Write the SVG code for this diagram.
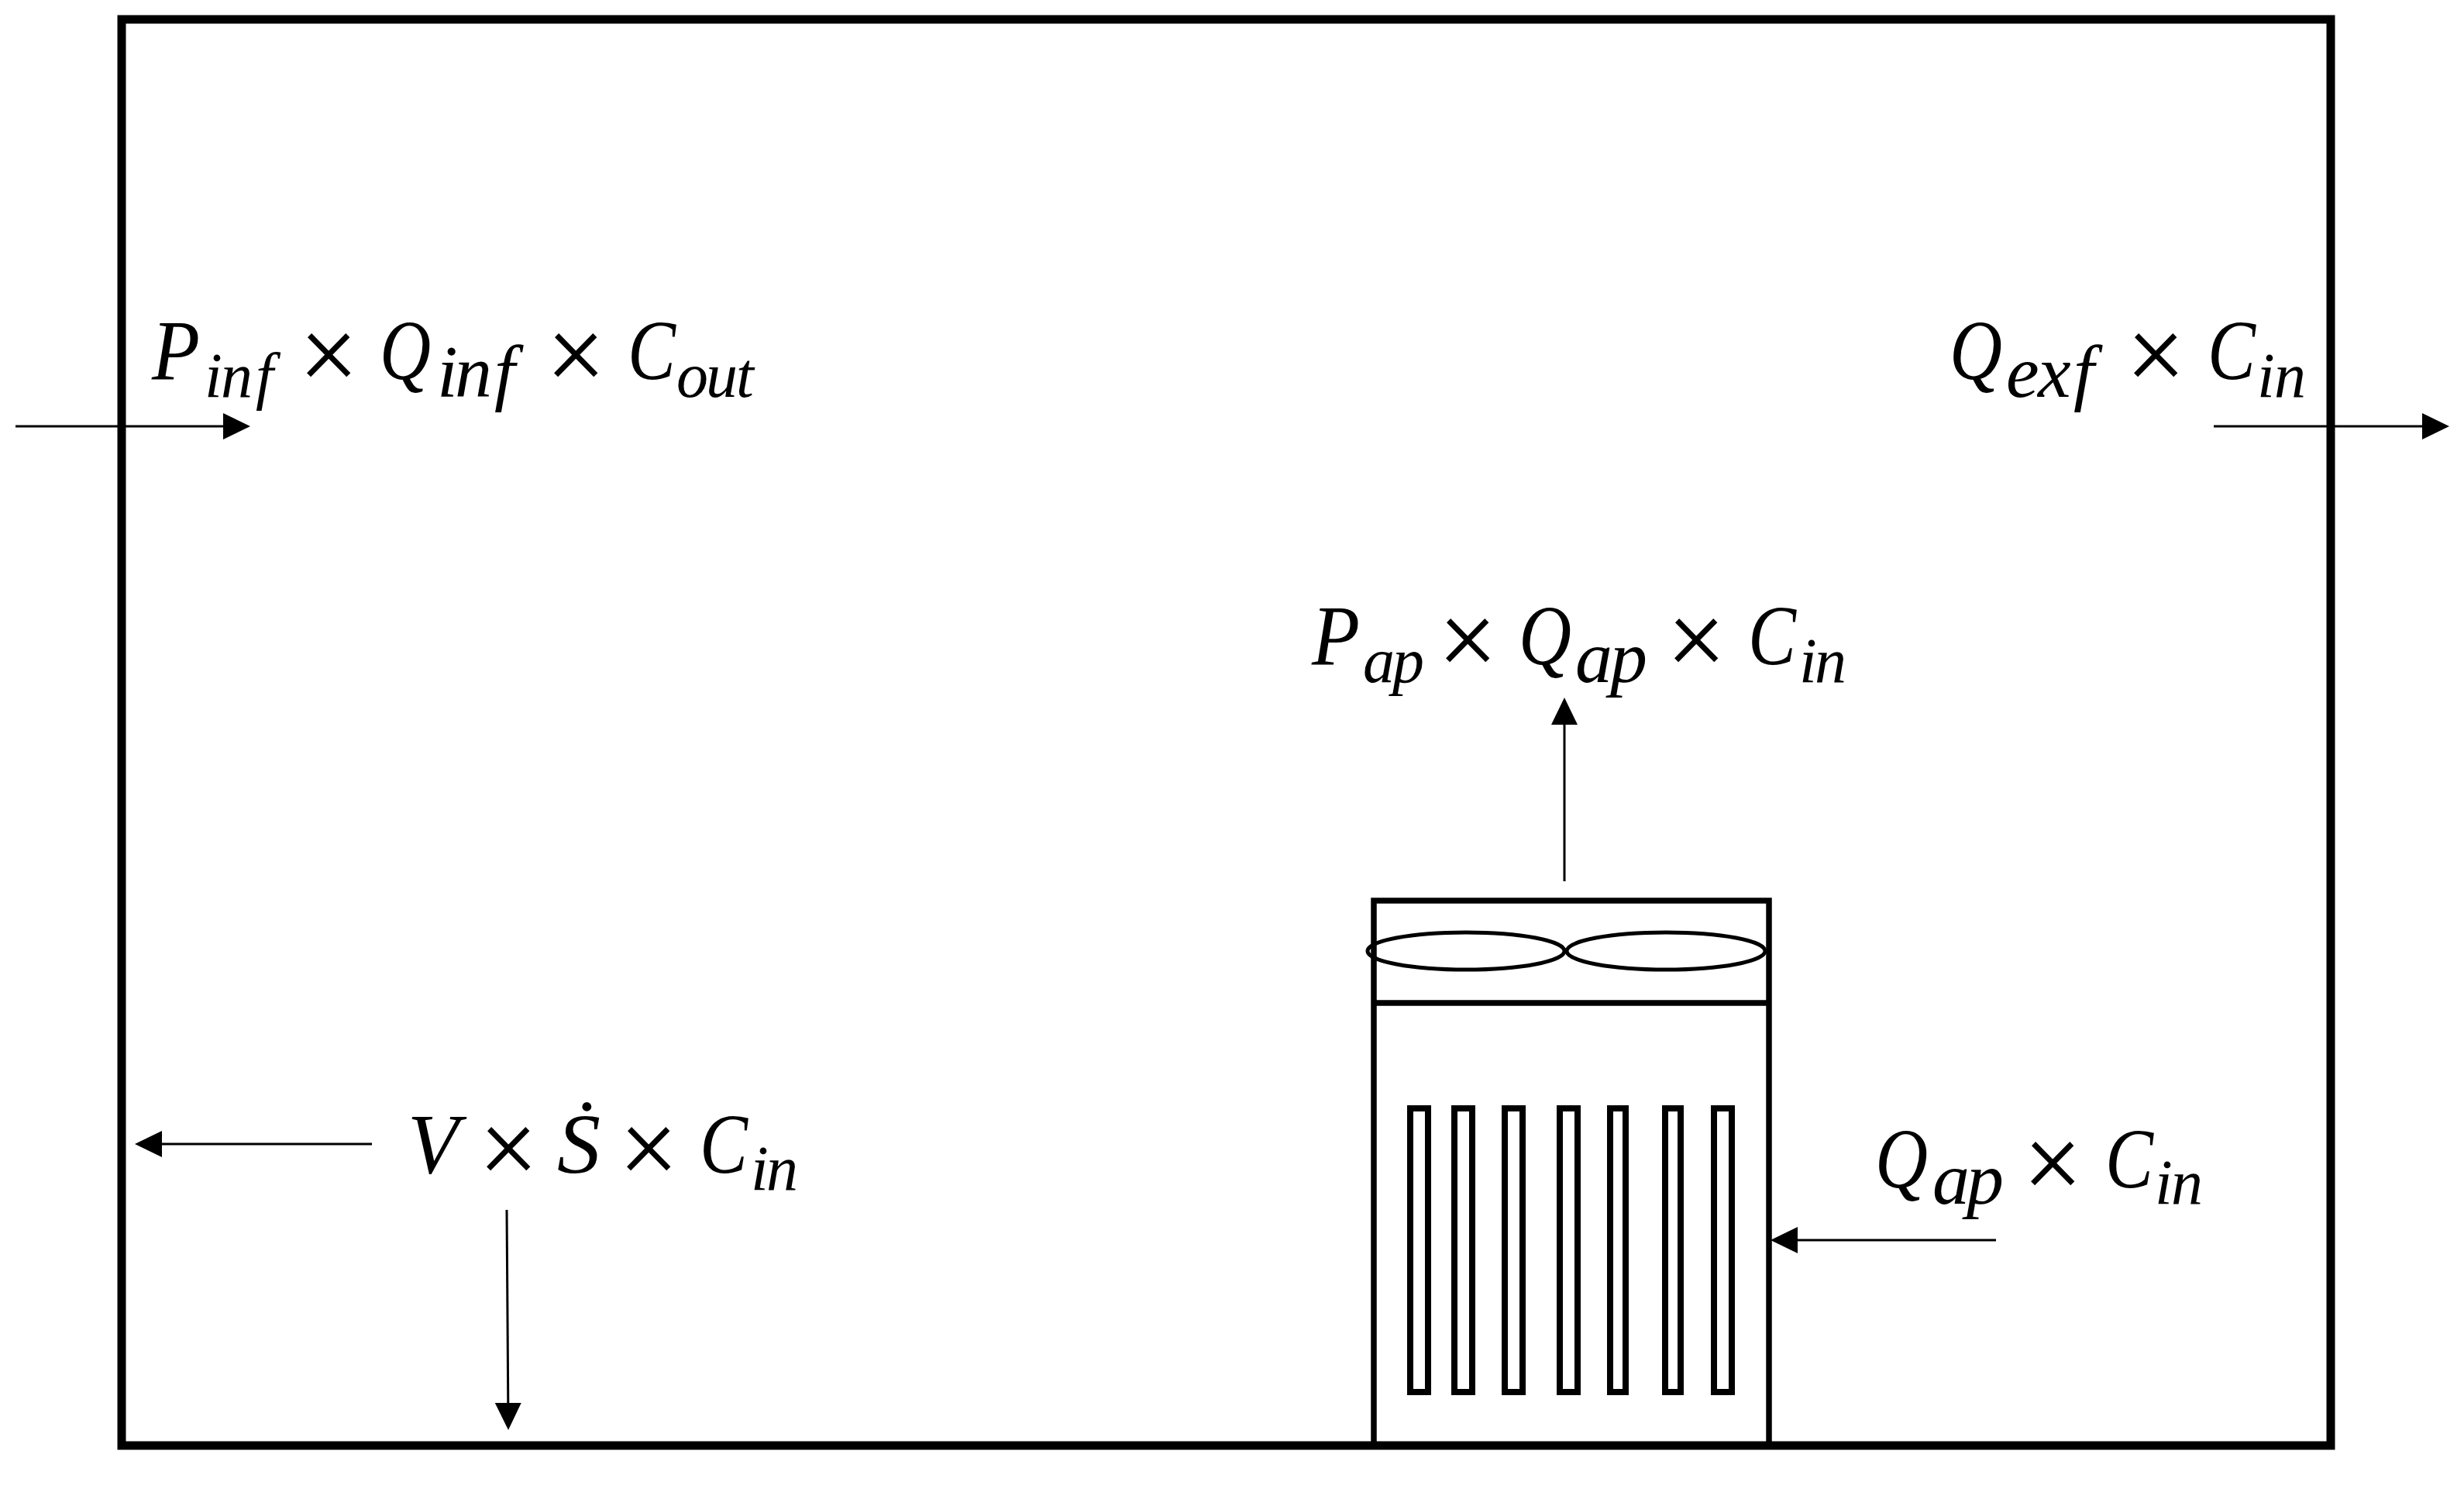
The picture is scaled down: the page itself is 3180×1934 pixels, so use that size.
<svg xmlns="http://www.w3.org/2000/svg" width="3180" height="1934" viewBox="0 0 3180 1934">
<style>
.bg{fill:#fff}
.frame{fill:none;stroke:#000;stroke-width:11}
.unit{fill:none;stroke:#000;stroke-width:7.5}
.vent{fill:none;stroke:#000;stroke-width:8}
.fan{fill:none;stroke:#000;stroke-width:5}
.arrow{fill:none;stroke:#000;stroke-width:3;marker-end:url(#head)}
text{font-family:"Liberation Serif","Times New Roman",serif;fill:#000}
.m{font-size:110px;font-style:italic}
.s{font-size:82px;font-style:italic}
.l{font-size:96px;font-style:italic}
.x{font-size:132px;font-family:Roboto,"Liberation Sans",sans-serif;font-weight:300}
</style>
<defs>
<marker id="head" markerUnits="userSpaceOnUse" markerWidth="36" markerHeight="36" refX="31" refY="17" orient="auto">
<path d="M0 0L35 17L0 34Z" fill="#000"/>
</marker>
</defs>
<rect class="bg" width="3180" height="1934"/>
<g id="room"><rect class="frame" x="157" y="25" width="2851" height="1840"/></g>
<g id="air-purifier">
<rect class="unit" x="1773" y="1162" width="510" height="703"/>
<line class="unit" x1="1773" y1="1294" x2="2283" y2="1294"/>
<ellipse class="fan" cx="1892" cy="1227" rx="127" ry="24"/>
<ellipse class="fan" cx="2150" cy="1227" rx="128" ry="24"/>
<rect class="vent" x="1820" y="1430" width="23" height="366"/>
<rect class="vent" x="1877" y="1430" width="23" height="366"/>
<rect class="vent" x="1942" y="1430" width="23" height="366"/>
<rect class="vent" x="2013" y="1430" width="23" height="366"/>
<rect class="vent" x="2078" y="1430" width="20" height="366"/>
<rect class="vent" x="2149" y="1430" width="20" height="366"/>
<rect class="vent" x="2212" y="1430" width="23" height="366"/>
</g>
<g id="connectors">
<line class="arrow" x1="20" y1="550" x2="319" y2="550"/>
<line class="arrow" x1="2857" y1="550" x2="3157" y2="550"/>
<line class="arrow" x1="2019" y1="1137" x2="2019" y2="904"/>
<line class="arrow" x1="480" y1="1476" x2="178" y2="1476"/>
<line class="arrow" x1="654" y1="1561" x2="656" y2="1841"/>
<line class="arrow" x1="2576" y1="1600" x2="2289" y2="1600"/>
</g>
<g id="label-infiltration"><text><tspan class="m" x="196" y="489" textLength="62" lengthAdjust="spacingAndGlyphs">P</tspan><tspan class="s" x="264 285 330" y="512">inf</tspan><tspan class="x" x="390" y="493">×</tspan><tspan class="m" x="490" y="489" textLength="66" lengthAdjust="spacingAndGlyphs">Q</tspan><tspan class="l" x="564 587 638" y="512">inf</tspan><tspan class="x" x="709" y="493">×</tspan><tspan class="m" x="810" y="489" textLength="62" lengthAdjust="spacingAndGlyphs">C</tspan><tspan class="s" x="873 911 950" y="512">out</tspan></text></g>
<g id="label-exfiltration"><text><tspan class="m" x="2516" y="489" textLength="68" lengthAdjust="spacingAndGlyphs">Q</tspan><tspan class="l" x="2589 2630 2676" y="512">exf</tspan><tspan class="x" x="2748" y="493">×</tspan><tspan class="m" x="2849" y="489" textLength="62" lengthAdjust="spacingAndGlyphs">C</tspan><tspan class="s" x="2913 2935" y="512">in</tspan></text></g>
<g id="label-purifier-out"><text><tspan class="m" x="1693" y="857" textLength="62" lengthAdjust="spacingAndGlyphs">P</tspan><tspan class="s" x="1759 1797" y="880">ap</tspan><tspan class="x" x="1860" y="861">×</tspan><tspan class="m" x="1960" y="857" textLength="68" lengthAdjust="spacingAndGlyphs">Q</tspan><tspan class="l" x="2033 2078" y="880">ap</tspan><tspan class="x" x="2155" y="861">×</tspan><tspan class="m" x="2256" y="857" textLength="62" lengthAdjust="spacingAndGlyphs">C</tspan><tspan class="s" x="2322 2342" y="880">in</tspan></text></g>
<g id="label-deposition"><text><tspan class="m" x="526" y="1513" textLength="66" lengthAdjust="spacingAndGlyphs">V</tspan><tspan class="x" x="622" y="1517">×</tspan><tspan class="m" x="719" y="1513" textLength="56" lengthAdjust="spacingAndGlyphs">Ṡ</tspan><tspan class="x" x="803" y="1517">×</tspan><tspan class="m" x="903" y="1513" textLength="62" lengthAdjust="spacingAndGlyphs">C</tspan><tspan class="s" x="969 989" y="1535">in</tspan></text></g>
<g id="label-purifier-in"><text><tspan class="m" x="2420" y="1532" textLength="68" lengthAdjust="spacingAndGlyphs">Q</tspan><tspan class="l" x="2494 2538" y="1553">ap</tspan><tspan class="x" x="2615" y="1536">×</tspan><tspan class="m" x="2717" y="1532" textLength="62" lengthAdjust="spacingAndGlyphs">C</tspan><tspan class="s" x="2781 2802" y="1553">in</tspan></text></g>
</svg>
